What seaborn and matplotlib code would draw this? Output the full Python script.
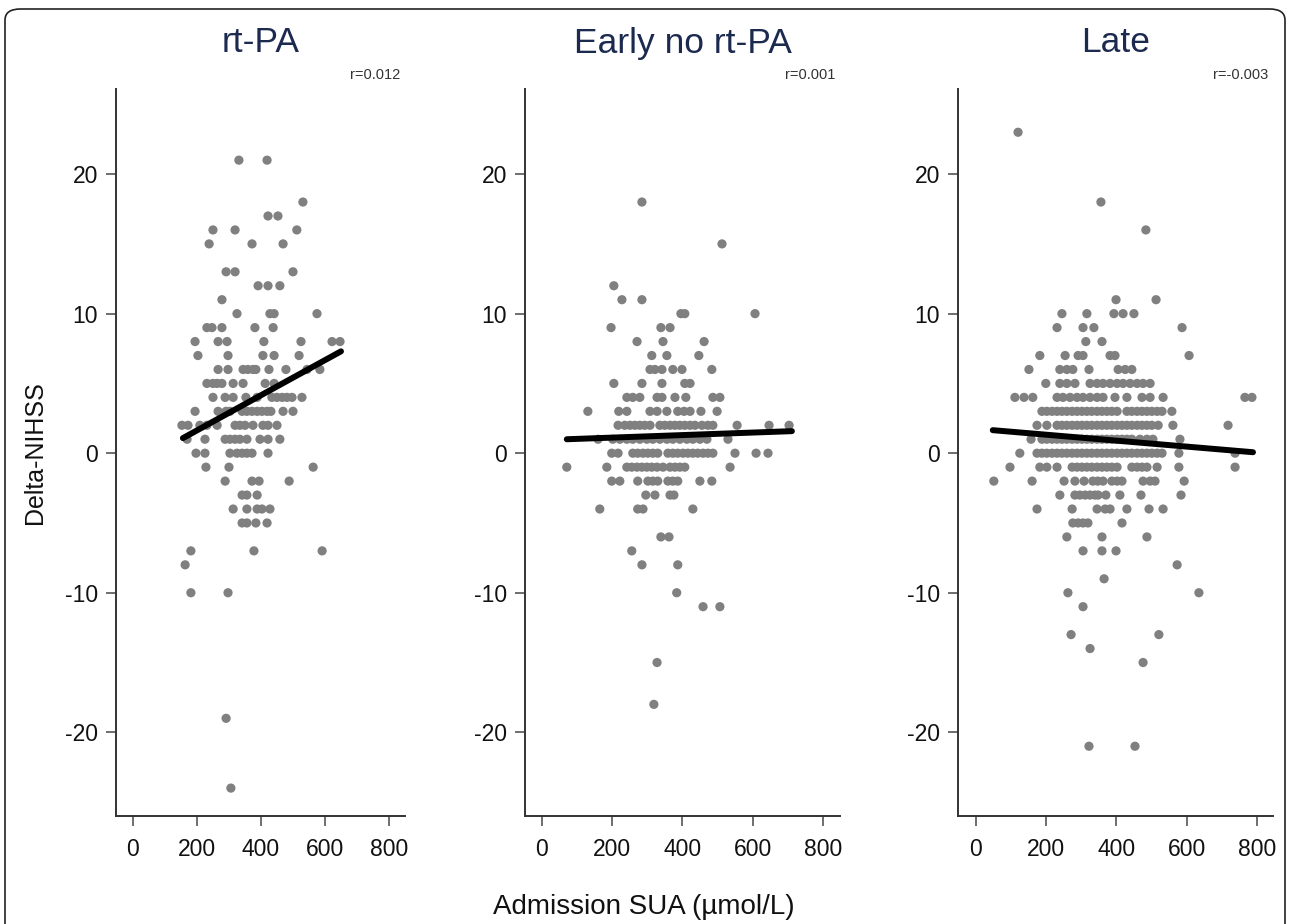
import numpy as np
import pandas as pd
import seaborn as sns
import matplotlib.pyplot as plt
from matplotlib.patches import FancyBboxPatch

# Delta-NIHSS value -> admission SUA values
rtpa_pts = {
    21: [331, 419],
    18: [531],
    17: [422, 453],
    16: [250, 319, 512],
    15: [238, 372, 469],
    13: [291, 319, 500],
    12: [391, 422, 459],
    11: [278],
    10: [325, 428, 441, 575],
    9: [231, 247, 278, 381, 438],
    8: [194, 266, 294, 409, 525, 622, 647],
    7: [203, 297, 406, 441, 519],
    6: [266, 297, 344, 359, 375, 384, 425, 478, 544, 584],
    5: [231, 250, 263, 278, 313, 344, 413, 441],
    4: [250, 288, 313, 353, 388, 434, 450, 466, 481, 497, 528],
    3: [194, 266, 291, 303, 341, 356, 372, 388, 403, 419, 431, 469, 500],
    2: [153, 172, 209, 231, 263, 319, 334, 350, 375, 406, 422, 450],
    1: [169, 225, 288, 303, 319, 334, 356, 397, 422, 459],
    0: [197, 225, 303, 325, 341, 356, 372, 422],
    -1: [228, 300, 563],
    -2: [288, 372, 394, 488],
    -3: [341, 356, 388],
    -4: [313, 356, 388, 403, 428],
    -5: [341, 356, 384, 419],
    -7: [181, 378, 591],
    -8: [163],
    -10: [181, 297],
    -19: [291],
    -24: [306],
}

early_pts = {
    18: [285],
    15: [513],
    12: [205],
    11: [228, 285],
    10: [396, 407, 607],
    9: [197, 339, 365],
    8: [271, 345, 462],
    7: [313, 356, 447],
    6: [308, 322, 342, 373, 399, 484],
    5: [205, 285, 342, 407, 422],
    4: [242, 259, 279, 328, 342, 379, 410, 487, 507],
    3: [131, 219, 242, 308, 328, 356, 387, 405, 422, 453, 499],
    2: [217, 236, 251, 265, 279, 293, 308, 336, 350, 365, 379, 393, 407,
        422, 436, 456, 473, 487, 556, 647, 704],
    1: [160, 202, 222, 242, 259, 279, 299, 316, 336, 356, 373, 393, 413,
        430, 450, 470, 530],
    0: [199, 217, 259, 273, 288, 302, 316, 330, 359, 373, 387, 402, 416,
        430, 444, 459, 473, 487, 550, 610, 644],
    -1: [71, 185, 242, 256, 271, 285, 299, 313, 328, 345, 365, 379, 393,
         407, 536],
    -2: [199, 222, 273, 302, 316, 330, 359, 373, 387, 450, 484],
    -3: [296, 322, 365, 376],
    -4: [165, 273, 288, 430],
    -6: [339, 362],
    -7: [256],
    -8: [285, 387],
    -10: [384],
    -11: [459, 507],
    -15: [328],
    -18: [319],
}

late_pts = {
    23: [120],
    18: [356],
    16: [484],
    11: [399, 513],
    10: [245, 316, 393, 419, 450],
    9: [231, 305, 336, 587],
    8: [313, 359],
    7: [182, 254, 291, 305, 382, 396, 607],
    6: [151, 239, 259, 276, 322, 405, 425, 444],
    5: [199, 239, 259, 282, 325, 345, 362, 382, 402, 419, 439, 459, 476, 496],
    4: [111, 137, 162, 231, 248, 268, 288, 305, 325, 345, 362, 396, 430,
        473, 496, 533, 766, 786],
    3: [188, 202, 217, 231, 245, 259, 274, 288, 302, 316, 330, 345, 359,
        373, 387, 402, 430, 444, 459, 473, 487, 501, 516, 530, 558],
    2: [174, 202, 231, 245, 259, 274, 288, 302, 316, 330, 345, 359, 373,
        387, 402, 416, 430, 444, 459, 473, 487, 501, 519, 561, 718],
    1: [157, 188, 202, 217, 231, 245, 259, 274, 288, 302, 316, 330, 345,
        359, 373, 387, 402, 416, 430, 444, 467, 487, 504, 581],
    0: [125, 174, 188, 202, 217, 231, 245, 259, 274, 288, 302, 316, 330,
        345, 359, 373, 387, 402, 416, 430, 444, 459, 473, 487, 501, 516,
        530, 578, 738],
    -1: [97, 182, 202, 231, 274, 288, 302, 316, 330, 345, 359, 373, 387,
         402, 444, 459, 473, 487, 516, 578, 738],
    -2: [51, 160, 251, 282, 308, 333, 347, 362, 387, 402, 416, 476, 496,
         510, 593],
    -3: [239, 282, 296, 311, 325, 339, 348, 370, 410, 470, 584],
    -4: [174, 274, 345, 368, 382, 430, 493, 533],
    -5: [276, 291, 305, 319, 416],
    -6: [259, 359, 487],
    -7: [305, 359, 399],
    -8: [573],
    -9: [365],
    -10: [262, 635],
    -11: [305],
    -13: [271, 521],
    -14: [325],
    -15: [476],
    -21: [322, 453],
}

# fitted lines (end points)
rtpa_fit_x, rtpa_fit_y = [156, 650], [1.08, 7.3]
early_fit_x, early_fit_y = [71, 712], [1.0, 1.58]
late_fit_x, late_fit_y = [48, 789], [1.65, 0.07]

titles = ["rt-PA", "Early no rt-PA", "Late"]
r_labels = ["r=0.012", "r=0.001", "r=-0.003"]
x_ticks = [0, 200, 400, 600, 800]
y_ticks = [-20, -10, 0, 10, 20]


def to_frame(pts):
    rows = [(x, y) for y, xs in pts.items() for x in xs]
    return pd.DataFrame(rows, columns=["sua", "delta"])


panels = [
    (to_frame(rtpa_pts), rtpa_fit_x, rtpa_fit_y),
    (to_frame(early_pts), early_fit_x, early_fit_y),
    (to_frame(late_pts), late_fit_x, late_fit_y),
]

sns.set_style("ticks")
plt.rcParams["font.family"] = ["Liberation Sans", "DejaVu Sans"]
plt.rcParams["axes.unicode_minus"] = False

W, H = 1290, 924
fig = plt.figure(figsize=(W / 100, H / 100), dpi=100)

# outer rounded frame
frame = FancyBboxPatch((5 / W, -0.05), 1280 / W, 1.05 - 9 / H,
                       boxstyle="round,pad=0,rounding_size=0.012",
                       transform=fig.transFigure, fill=False,
                       edgecolor="#222222", linewidth=1.2)
fig.patches.append(frame)

# axes boxes in pixels: left, right, and x-limits
boxes = [(116, 405, (-53, 850)), (525, 840, (-48, 849)), (958, 1273, (-51, 846))]
top_px, bot_px = 89, 816

for i, ((df, fx, fy), (l, r, xlim)) in enumerate(zip(panels, boxes)):
    ax = fig.add_axes([l / W, 1 - bot_px / H, (r - l) / W, (bot_px - top_px) / H])
    sns.scatterplot(data=df, x="sua", y="delta", ax=ax, color="#808080",
                    s=44, edgecolor="none", linewidth=0)
    sns.lineplot(x=fx, y=fy, ax=ax, color="black", linewidth=4.3)
    ax.set_xlim(*xlim)
    ax.set_ylim(-26, 26.1)
    ax.set_xticks(x_ticks)
    ax.set_yticks(y_ticks)
    ax.set_xlabel("")
    ax.set_ylabel("")
    sns.despine(ax=ax)
    for s in ["left", "bottom"]:
        ax.spines[s].set_color("#333333")
        ax.spines[s].set_linewidth(1.4)
    ax.tick_params(length=7, width=1.2, color="#555555", labelsize=16.5,
                   labelcolor="#111111")
    ax.tick_params(axis="x", pad=9)
    ax.tick_params(axis="y", pad=6)
    ax.text(1 - 5 / (r - l), 1 + 7 / (bot_px - top_px), r_labels[i],
            transform=ax.transAxes, ha="right", va="bottom",
            fontsize=10.5, color="#333333")
    fig.text((l + r) / 2 / W, 1 - 43 / H, titles[i], ha="center",
             va="center", fontsize=25.5, color="#1c2a50")

fig.text(35 / W, 1 - 453 / H, "Delta-NIHSS", rotation=90, ha="center",
         va="center", fontsize=18, color="#111111")
fig.text(644 / W, 1 - 907 / H, "Admission SUA (µmol/L)", ha="center",
         va="center", fontsize=20, color="#111111")

fig.savefig("out.png", dpi=100)
